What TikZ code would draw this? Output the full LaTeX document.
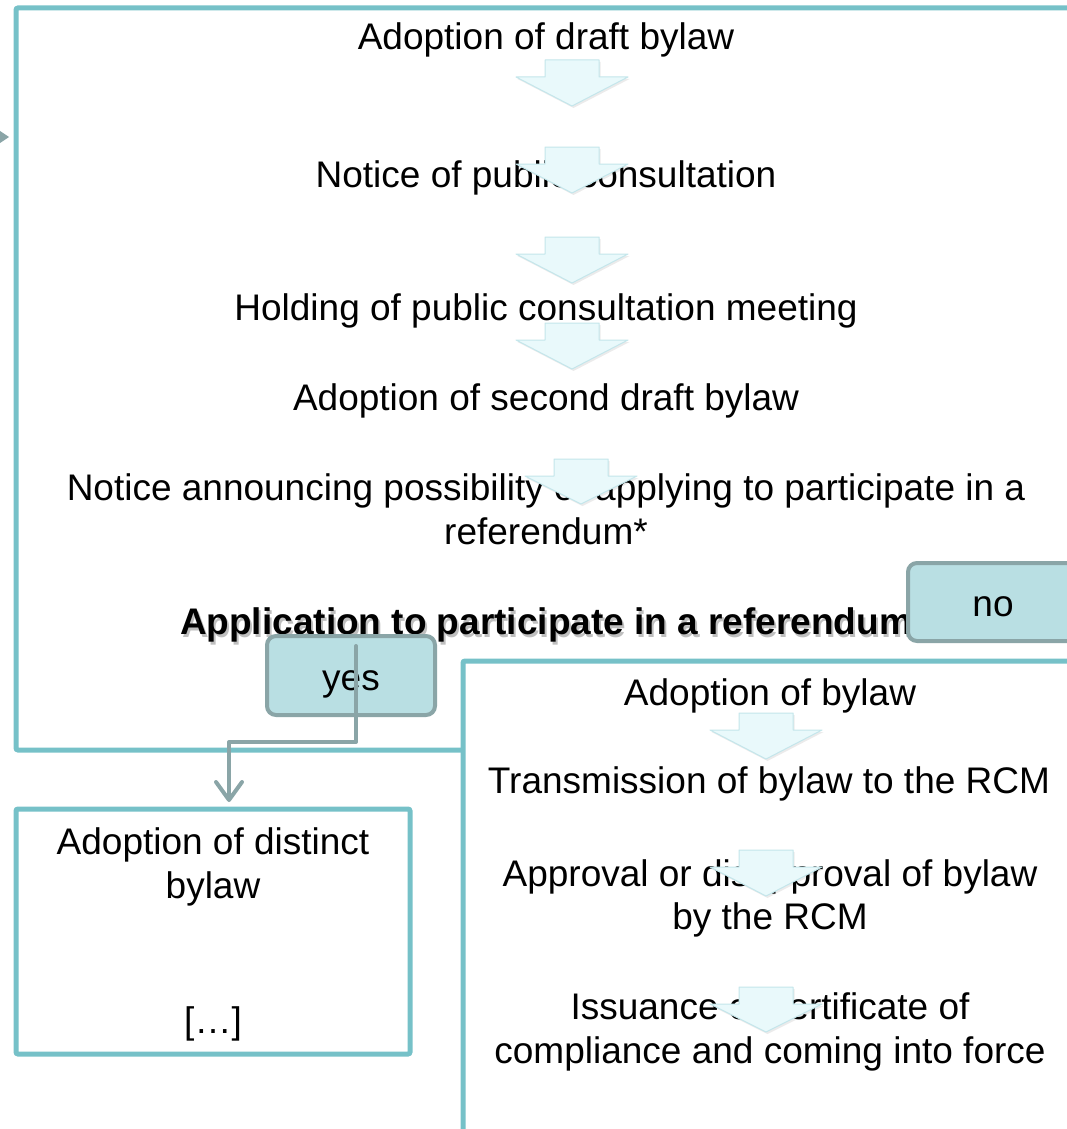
\documentclass[tikz,border=0pt]{standalone}
\usepackage{fontspec}
\setmainfont{Liberation Sans}
\usetikzlibrary{arrows.meta}
\definecolor{frameteal}{RGB}{118,193,200}
\definecolor{boxfill}{RGB}{185,223,227}
\definecolor{boxline}{RGB}{138,165,167}
\definecolor{arrowfill}{RGB}{233,249,251}
\definecolor{arrowedge}{RGB}{196,230,235}
\newcommand\dnArrowShape[3]{%
  \fill[black,opacity=0.08] ({#1-27+1.5},{#2+2}) -- ({#1+27+1.5},{#2+2}) -- ({#1+27+1.5},{#2+17+2}) -- ({#1+56+1.5},{#2+17+2}) -- ({#1+1.5},{#3+2}) -- ({#1-56+1.5},{#2+17+2}) -- ({#1-27+1.5},{#2+17+2}) -- cycle;
  \filldraw[fill=arrowfill,draw=arrowedge,line width=1pt,line join=round] ({#1-27},{#2}) -- ({#1+27},{#2}) -- ({#1+27},{#2+17}) -- ({#1+56},{#2+17}) -- ({#1},{#3}) -- ({#1-56},{#2+17}) -- ({#1-27},{#2+17}) -- cycle;
}
\begin{document}
\begin{tikzpicture}[x=1pt,y=-1pt,
  txt/.style={font=\fontsize{37}{44}\selectfont, inner sep=0pt, anchor=base},
  framebox/.style={draw=frameteal, line width=5pt, rounded corners=2pt, fill=white},
  choice/.style={draw=boxline, fill=boxfill, line width=4pt, rounded corners=9pt, inner sep=0pt, outer sep=0pt},
  conn/.style={draw=boxline, line width=4pt, line cap=round, line join=round}
]
\useasboundingbox (0,0) rectangle (1066,1129);
% small incoming triangle at left
\fill[boxline] (-3,129) -- (9,137) -- (-3,145) -- cycle;
% frames
\draw[framebox] (16,8) rectangle (1110,750);
\draw[framebox] (463,661) rectangle (1110,1170);
\node[framebox, minimum width=394pt, minimum height=245pt, anchor=north west, inner sep=0pt, outer sep=0pt] (distinct) at (16,809) {};
% main frame texts
\node[txt] (t1) at (546,50) {Adoption of draft bylaw};
\node[txt] (t2) at (546,187) {Notice of public consultation};
\node[txt] (t3) at (546,320) {Holding of public consultation meeting};
\node[txt] (t4) at (546,410) {Adoption of second draft bylaw};
\node[txt] (t5a) at (546,500) {Notice announcing possibility of applying to participate in a};
\node[txt] (t5b) at (546,544) {referendum*};
% right frame texts
\node[txt] (r1) at (770,705) {Adoption of bylaw};
\node[txt] (r2) at (769,793) {Transmission of bylaw to the RCM};
\node[txt] (r3a) at (770,886) {Approval or disapproval of bylaw};
\node[txt] (r3b) at (770,929) {by the RCM};
\node[txt] (r4a) at (770,1019) {Issuance of certificate of};
\node[txt] (r4b) at (770,1063) {compliance and coming into force};
% left box texts
\node[txt] (d1) at (213,854) {Adoption of distinct};
\node[txt] (d2) at (213,898) {bylaw};
\node[txt] (d3) at (213,1033) {[…]};
% block arrows
\dnArrowShape{572}{60}{106}
\dnArrowShape{572}{147}{193}
\dnArrowShape{572}{237}{283}
\dnArrowShape{572}{323}{369}
\dnArrowShape{581}{459}{504}
\dnArrowShape{766}{713}{759}
\dnArrowShape{766}{850}{896}
\dnArrowShape{766}{987}{1032}
% decision text with shadow
\node[txt, font=\fontsize{37}{44}\selectfont\bfseries, text=black, opacity=0.25] at (548,637) {Application to participate in a referendum};
\node[txt, font=\fontsize{37}{44}\selectfont\bfseries] (q) at (546,634) {Application to participate in a referendum};
% choices
\node[choice, minimum width=168pt, minimum height=79pt, anchor=north west] (yes) at (267,636) {};
\node[txt] (yestxt) at (351,690) {yes};
\node[choice, minimum width=200pt, minimum height=78pt, anchor=north west] (no) at (908,563) {};
\node[txt] (notxt) at (993,616) {no};
% connector yes -> distinct bylaw
\coordinate (ystart) at (356,646);
\coordinate (ybend) at (229,742);
\coordinate (dtip) at (229,802);
\draw[conn, -{Straight Barb[length=18pt 0 0, width=26pt 0 0, round]}] (ystart) |- (ybend) -- (dtip);
\end{tikzpicture}
\end{document}
